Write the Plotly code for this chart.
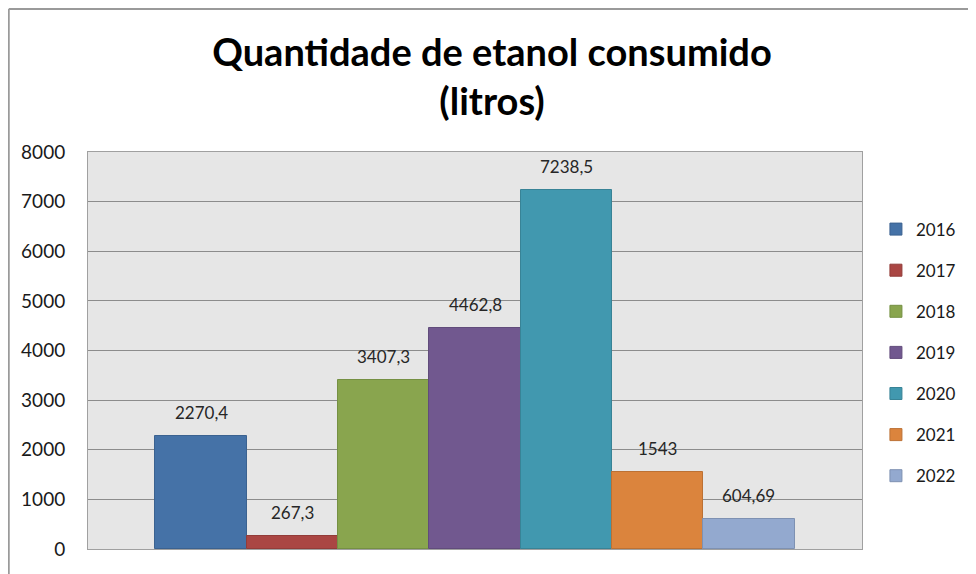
import plotly.graph_objects as go

# Dados
anos = ['2016', '2017', '2018', '2019', '2020', '2021', '2022']
litros = [2270.4, 267.3, 3407.3, 4462.8, 7238.5, 1543, 604.69]
rotulos = ['2270,4', '267,3', '3407,3', '4462,8', '7238,5', '1543', '604,69']
cores = ['#4572A7', '#AA4643', '#89A54E', '#71588F', '#4198AF', '#DB843D', '#93A9CF']
bordas = ['#3B6290', '#923C39', '#759043', '#614C7B', '#388396', '#BC7134', '#7E91B2']

fig = go.Figure()

for i, (ano, valor, rotulo, cor, borda) in enumerate(zip(anos, litros, rotulos, cores, bordas)):
    fig.add_trace(go.Bar(
        x=[ano], y=[valor], name=ano, legendgroup=ano,
        marker=dict(color=cor, line=dict(color=borda, width=1)),
    ))
    # rotulo de dados acima da barra (x = indice da categoria)
    fig.add_annotation(x=i, y=valor, xref='x', yref='y', text=rotulo, showarrow=False,
                       yanchor='bottom', yshift=11,
                       font=dict(family='Lato, Open Sans, sans-serif', size=17, color='#262626'))

# borda externa do grafico (estilo Excel), no canto da figura
fig.add_shape(type='line', xref='paper', yref='paper', x0=-0.1024, x1=1.2, y0=1.3602, y1=1.3602,
              line=dict(color='#9a9a9a', width=2))
fig.add_shape(type='line', xref='paper', yref='paper', x0=-0.1024, x1=-0.1024, y0=1.3602, y1=-0.2,
              line=dict(color='#9a9a9a', width=2))

# a pagina tem margem de 8px no body, por isso a figura e um pouco menor
fig.update_layout(
    width=968, height=566,
    margin=dict(l=80, r=114, t=144, b=25),
    paper_bgcolor='white', plot_bgcolor='#e6e6e6',
    barmode='overlay', bargap=0,
    title=dict(text='<b>Quantidade de etanol consumido<br>(litros)</b>',
               x=0.5, xanchor='center', y=0.8975, yanchor='top',
               font=dict(family='Lato, Open Sans, sans-serif', size=38, color='black')),
    font=dict(family='Lato, Open Sans, sans-serif', color='#1a1a1a'),
    legend=dict(x=1.018, y=0.85, xanchor='left', yanchor='top',
                font=dict(size=17), tracegroupgap=16, bgcolor='rgba(0,0,0,0)'),
    showlegend=True,
)

fig.update_xaxes(type='category', range=[-1.2385, 7.2385], showticklabels=False, showgrid=False,
                 showline=True, mirror=True, linecolor='#a0a0a0', linewidth=1)
fig.update_yaxes(range=[0, 8000], dtick=1000, showgrid=True, gridcolor='#8c8c8c', gridwidth=1,
                 showline=True, mirror=True, linecolor='#a0a0a0', linewidth=1,
                 tickfont=dict(size=19, color='#1a1a1a'), ticklabelstandoff=18, zeroline=False)

fig.write_html("out.html")
